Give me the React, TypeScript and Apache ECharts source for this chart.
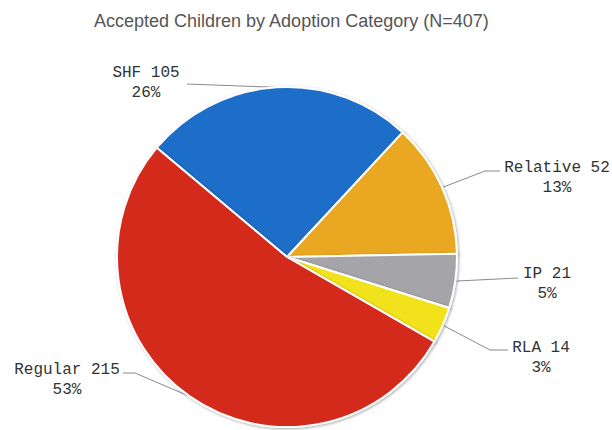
import React, { useEffect, useRef } from "react";
import * as echarts from "echarts";

const TITLE = "Accepted Children by Adoption Category (N=407)";
const categories = ["SHF", "Relative", "IP", "RLA", "Regular"];
const values = [105, 52, 21, 14, 215];
const colors = ["#1d6ec8", "#eaa824", "#a5a5a9", "#f1e21e", "#d32a1f"];

// label layout: text block centre and label-line points (bend, end)
const labelCenters: [number, number][] = [
  [146, 83],
  [557, 178],
  [547, 284],
  [541, 358],
  [67, 380],
];
const labelLineRoutes: [number, number][][] = [
  [[187, 84]],
  [[485, 171], [500, 171]],
  [[518, 278]],
  [[490, 350], [508, 350]],
  [[135, 373], [123, 373]],
];

export default function App() {
  const ref = useRef<HTMLDivElement>(null);
  useEffect(() => {
    document.body.style.margin = "0";
    if (!ref.current) return;
    const chart = echarts.init(ref.current, null, { renderer: "svg" });
    chart.setOption({
      animation: false,
      backgroundColor: "#ffffff",
      title: {
        text: TITLE,
        left: 89,
        top: 7,
        textStyle: {
          fontFamily: "Liberation Sans, Arial, sans-serif",
          fontSize: 18,
          fontWeight: "normal",
          color: "#555555",
        },
      },
      series: [
        {
          type: "pie",
          center: [287, 257],
          radius: 170,
          startAngle: 140,
          clockwise: true,
          percentPrecision: 0,
          data: categories.map((c, i) => ({
            name: c,
            value: values[i],
            itemStyle: { color: colors[i] },
          })),
          itemStyle: {
            borderColor: "#ffffff",
            borderWidth: 2,
            shadowBlur: 3,
            shadowColor: "rgba(0,0,0,0.35)",
            shadowOffsetX: 1,
            shadowOffsetY: 1,
          },
          label: {
            show: true,
            position: "outside",
            formatter: "{b} {c}\n{d}%",
            fontFamily: "Liberation Mono, DejaVu Sans Mono, monospace",
            fontSize: 16,
            lineHeight: 20,
            color: "#333333",
          },
          labelLine: {
            show: true,
            length: 10,
            length2: 10,
            lineStyle: { color: "#8a8a8a", width: 1 },
          },
          labelLayout: (params: any) => {
            const i = params.dataIndex;
            const start = params.labelLinePoints
              ? params.labelLinePoints[0]
              : [0, 0];
            return {
              x: labelCenters[i][0],
              y: labelCenters[i][1],
              align: "center",
              verticalAlign: "middle",
              labelLinePoints: [start, ...labelLineRoutes[i]],
            };
          },
          emphasis: { disabled: true },
        },
      ],
    });
    return () => chart.dispose();
  }, []);
  return <div ref={ref} style={{ width: 612, height: 430 }} />;
}
